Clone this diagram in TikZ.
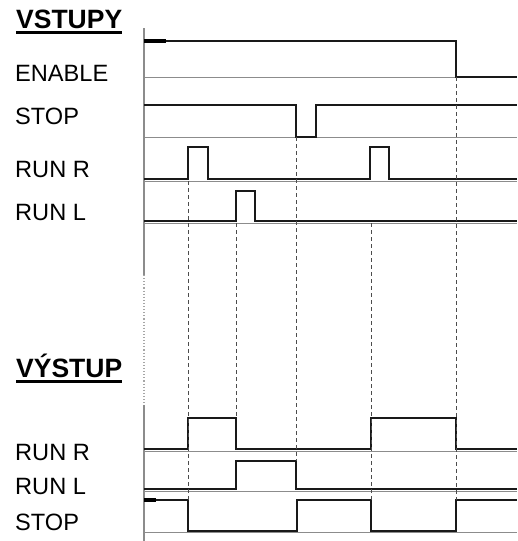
\documentclass[tikz,border=0pt]{standalone}
\usepackage{fontspec}
\setmainfont{Liberation Sans}
\usetikzlibrary{positioning}

\tikzset{
    wave/.style={line width=2.8pt, color=black!90, line join=miter},
    wavestart/.style={line width=3.3pt, color=black},
    levelline/.style={line width=0.9pt, color=gray!90},
    eventline/.style={line width=0.9pt, color=black!70, dash pattern=on 4pt off 3pt},
    axisline/.style={line width=1.1pt, color=gray!90},
    signame/.style={anchor=base west, inner sep=0pt, font=\fontsize{23.6}{28}\selectfont},
    heading/.style={anchor=base west, inner sep=0pt, font=\fontsize{26.5}{30}\selectfont\bfseries},
}

\begin{document}
\begin{tikzpicture}[x=1pt, y=-1pt]
    \useasboundingbox (0,0) rectangle (518,541);

    % time axis
    \coordinate (axis_top) at (144,28);
    \coordinate (axis_gap1) at (144,275);
    \coordinate (axis_gap2) at (144,405);
    \coordinate (axis_bot) at (144,541);
    \draw [axisline] (axis_top) -- (axis_gap1);
    \draw [axisline, dotted, color=gray!70] (axis_gap1) -- (axis_gap2);
    \draw [axisline] (axis_gap2) -- (axis_bot);

    % inputs
    \node[heading] (in_label) at (16,28) {VSTUPY};
        \draw [line width=2.4pt] ([yshift=-4.5pt]in_label.base west) -- ([yshift=-4.5pt]in_label.base east);
    \node[signame] (enable_label) at (15,81.5) {ENABLE};
    \node[signame] (stop_label) at (15,124) {STOP};
    \node[signame] (runr_label) at (15,177) {RUN R};
    \node[signame] (runl_label) at (15,220) {RUN L};

    \draw [levelline] (144,77) -- (517,77);
    \draw [levelline] (144,137) -- (517,137);
    \draw [levelline] (144,181) -- (517,181);
    \draw [levelline] (144,223) -- (517,223);

    \draw [wave] (144,41) -- (456,41) -- (456,77) -- (517,77);
        \draw [wavestart] (144,41) -- (166,41);
    \draw [wave] (144,105) -- (296,105) -- (296,137) -- (316,137) -- (316,105) -- (517,105);
    \draw [wave] (144,179) -- (188,179) -- (188,147) -- (208,147) -- (208,179)
        -- (370,179) -- (370,147) -- (389,147) -- (389,179) -- (517,179);
    \draw [wave] (144,221) -- (236,221) -- (236,191) -- (255,191) -- (255,221) -- (517,221);

    % output
    \node[heading] (out_label) at (16,377) {VÝSTUP};
        \draw [line width=2.4pt] ([yshift=-4.5pt]out_label.base west) -- ([yshift=-4.5pt]out_label.base east);
    \node[signame] (outr_label) at (15,460) {RUN R};
    \node[signame] (outl_label) at (15,494) {RUN L};
    \node[signame] (outstop_label) at (15,530) {STOP};

    \draw [levelline] (144,451) -- (517,451);
    \draw [levelline] (144,491) -- (517,491);
    \draw [levelline] (144,532) -- (517,532);

    \draw [wave] (144,449) -- (188,449) -- (188,418) -- (236,418) -- (236,449)
        -- (371,449) -- (371,418) -- (456,418) -- (456,449) -- (517,449);
    \draw [wave] (144,489) -- (236,489) -- (236,461) -- (296,461) -- (296,489) -- (517,489);
    \draw [wave] (144,500) -- (188,500) -- (188,531) -- (297,531) -- (297,500)
        -- (371,500) -- (371,531) -- (456,531) -- (456,500) -- (517,500);
        \draw [wavestart] (144,500) -- (156,500);

    % events
    \coordinate (ev1_top) at (188,181);  \coordinate (ev1_bot) at (188,500);
    \coordinate (ev2_top) at (236,223);  \coordinate (ev2_bot) at (236,418);
    \coordinate (ev3_top) at (296,137);  \coordinate (ev3_bot) at (296,461);
    \coordinate (ev4_top) at (371,223);  \coordinate (ev4_bot) at (371,500);
    \coordinate (ev5_top) at (456,77);   \coordinate (ev5_bot) at (456,500);
    \draw [eventline] (ev1_top) -- (ev1_bot);
    \draw [eventline] (ev2_top) -- (ev2_bot);
    \draw [eventline] (ev3_top) -- (ev3_bot);
    \draw [eventline] (ev4_top) -- (ev4_bot);
    \draw [eventline] (ev5_top) -- (ev5_bot);

\end{tikzpicture}
\end{document}
